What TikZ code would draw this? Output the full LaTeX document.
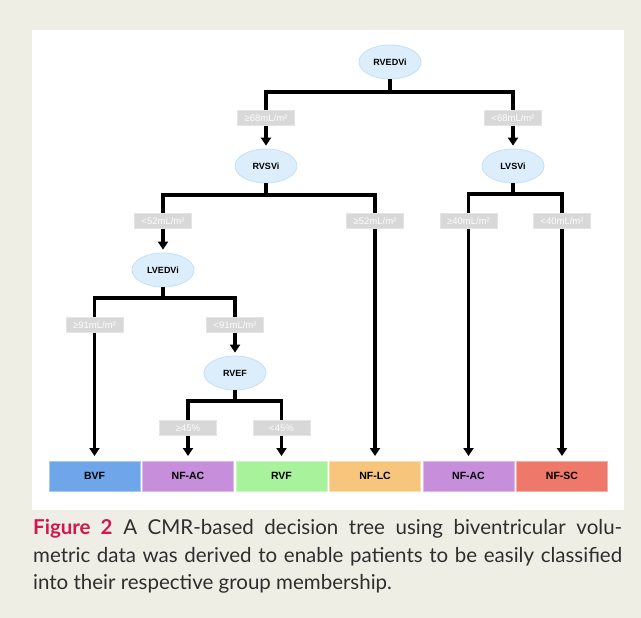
\documentclass[tikz,border=0pt]{standalone}
\usepackage{fontspec}
\setmainfont{Lato}
\newfontfamily\chartfont{Liberation Sans}
\usetikzlibrary{positioning,arrows.meta,shapes.geometric}
\definecolor{paper}{HTML}{EFEEE4}
\definecolor{bubble}{HTML}{DCEEFB}
\definecolor{bubbleline}{HTML}{C3E1F6}
\definecolor{cutgray}{HTML}{D8D8D8}
\definecolor{bvfblue}{HTML}{6FA6E9}
\definecolor{nfacpurple}{HTML}{C78EDB}
\definecolor{rvfgreen}{HTML}{A7F29B}
\definecolor{nflcorange}{HTML}{F7C67C}
\definecolor{nfscred}{HTML}{EE786A}
\definecolor{figred}{HTML}{D4164F}
\definecolor{captiontext}{HTML}{2E2E2E}

\begin{document}
\begin{tikzpicture}[
  x=1pt, y=-1pt,
  node distance=2.5pt,
  test/.style={ellipse,draw=bubbleline,line width=0.8pt,fill=bubble,
    minimum width=62pt,minimum height=34pt,inner sep=0pt,
    font=\chartfont\fontsize{9}{10}\selectfont\bfseries},
  cut/.style={fill=cutgray,draw=cutgray!70!white,line width=0.6pt,text=white!95!cutgray,
    minimum width=57pt,minimum height=15pt,inner sep=1pt,
    font=\chartfont\fontsize{9.5}{10}\selectfont},
  group/.style={fill=#1,draw=#1!60!white,line width=0.8pt,outer sep=0pt,
    minimum width=91pt,minimum height=30pt,inner sep=0pt,
    font=\chartfont\fontsize{10.5}{12}\selectfont\bfseries},
  bar/.style={line width=3.5pt},
  arr/.style={line width=3.5pt,-{Triangle[width=10pt,length=8pt]},shorten >=3pt}
  ]

   \fill [paper] (0,0) rectangle (641,618);
   \fill [white] (32,30) rectangle (624,510);
   \useasboundingbox (0,0) rectangle (641,618);

   \node (rvedvi) [test] at (390,62) {RVEDVi};
   \node (ge68) [cut] at (266,118) {≥68mL/m²};
   \node (lt68) [cut] at (513,118) {<68mL/m²};
   \node (rvsvi) [test] at (266,166) {RVSVi};
   \node (lvsvi) [test] at (513,166) {LVSVi};
   \node (lt52) [cut] at (163,221) {<52mL/m²};
   \node (ge52) [cut] at (375,221) {≥52mL/m²};
   \node (ge40) [cut] at (468.5,221) {≥40mL/m²};
   \node (lt40) [cut] at (562,221) {<40mL/m²};
   \node (lvedvi) [test] at (163,270) {LVEDVi};
   \node (ge91) [cut] at (94.5,325) {≥91mL/m²};
   \node (lt91) [cut] at (235,325) {<91mL/m²};
   \node (rvef) [test] at (235,373) {RVEF};
   \node (ge45) [cut] at (188,428) {≥45\%};
   \node (lt45) [cut] at (281.5,428) {<45\%};

   \node (bvf) [group=bvfblue] at (94.5,476) {BVF};
   \node (nfacl) [group=nfacpurple,right=of bvf] {NF-AC};
   \node (rvf) [group=rvfgreen,right=of nfacl] {RVF};
   \node (nflc) [group=nflcorange,right=of rvf] {NF-LC};
   \node (nfacr) [group=nfacpurple,right=of nflc] {NF-AC};
   \node (nfsc) [group=nfscred,right=of nfacr] {NF-SC};

   \coordinate (forka) at (390,92);
   \coordinate (forkb) at (266,195);
   \coordinate (forkc) at (513,194);
   \coordinate (forkd) at (163,298);
   \coordinate (forke) at (235,401);

   \draw [bar] (rvedvi.south) -- (forka);
   \draw [bar] (ge68.north) |- (forka) -| (lt68.north);
   \draw [arr] (ge68.south) -- (rvsvi.north);
   \draw [arr] (lt68.south) -- (lvsvi.north);

   \draw [bar] (rvsvi.south) -- (forkb);
   \draw [bar] (lt52.north) |- (forkb) -| (ge52.north);
   \draw [arr] (lt52.south) -- (lvedvi.north);
   \draw [arr,shorten >=5pt] (ge52.south) -- (nflc.north);

   \draw [bar] (lvsvi.south) -- (forkc);
   \draw [bar] (ge40.north) |- (forkc) -| (lt40.north);
   \draw [arr,shorten >=5pt] (ge40.south) -- (nfacr.north);
   \draw [arr,shorten >=5pt] (lt40.south) -- (nfsc.north);

   \draw [bar] (lvedvi.south) -- (forkd);
   \draw [bar] (ge91.north) |- (forkd) -| (lt91.north);
   \draw [arr,shorten >=5pt] (ge91.south) -- (bvf.north);
   \draw [arr] (lt91.south) -- (rvef.north);

   \draw [bar] (rvef.south) -- (forke);
   \draw [bar] (ge45.north) |- (forke) -| (lt45.north);
   \draw [arr,shorten >=5pt] (ge45.south) -- (nfacl.north);
   \draw [arr,shorten >=5pt] (lt45.south) -- (rvf.north);

   \node (caption) [anchor=north west,inner sep=0pt,align=left,text=captiontext,
     font=\fontsize{20.5}{27.5}\selectfont] at (33,519.5) {%
     \makebox[589pt][s]{{\color{figred}\bfseries Figure 2} A CMR-based decision tree using biventricular volu-}\\
     \makebox[589pt][s]{metric data was derived to enable patients to be easily classified}\\
     into their respective group membership.};

\end{tikzpicture}
\end{document}
